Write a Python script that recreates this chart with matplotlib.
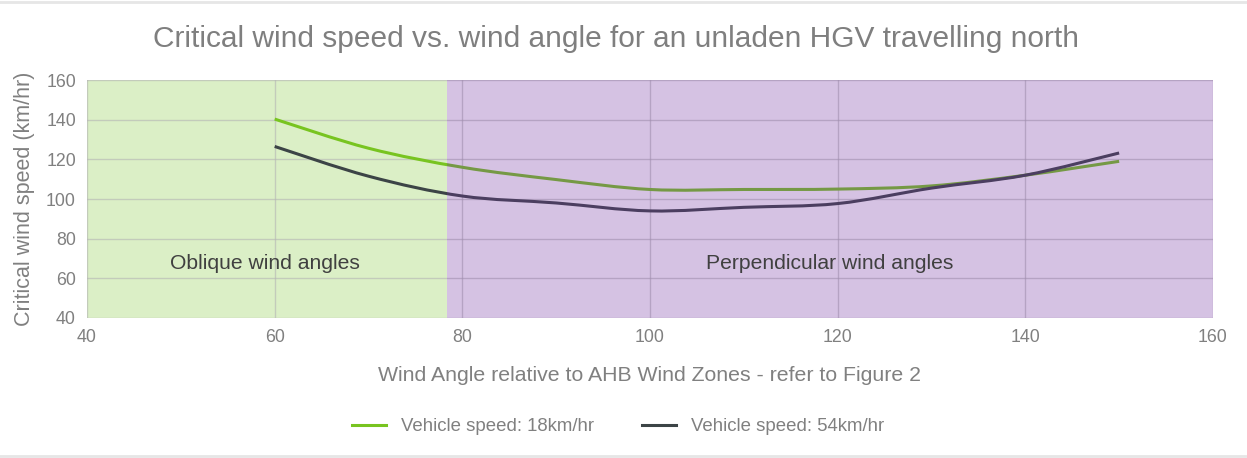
import matplotlib.pyplot as plt
from matplotlib.path import Path
from matplotlib.patches import PathPatch
from matplotlib.lines import Line2D

plt.rcParams['font.family'] = ['Liberation Sans', 'DejaVu Sans']

# data
wind_angle = [60, 70, 80, 90, 100, 110, 120, 130, 140, 150]
speed_18 = [140.3, 125.6, 116.0, 109.8, 104.8, 104.8, 105.0, 106.6, 112.0, 119.0]
speed_54 = [126.5, 111.5, 101.5, 98.0, 94.0, 95.8, 97.7, 105.5, 112.0, 123.2]
series_labels = ["Vehicle speed: 18km/hr", "Vehicle speed: 54km/hr"]
series_colors = ["#78c420", "#3c4446"]

oblique_range = (40, 78.4)
perpendicular_range = (78.4, 160)


def smooth_path(xs, ys):
    # Excel-style smoothed line: cubic Bezier through each point (Catmull-Rom tangents)
    pts = list(zip(xs, ys))
    verts = [pts[0]]
    codes = [Path.MOVETO]
    n = len(pts)
    for i in range(n - 1):
        p0 = pts[i - 1] if i > 0 else pts[i]
        p1 = pts[i]
        p2 = pts[i + 1]
        p3 = pts[i + 2] if i + 2 < n else pts[i + 1]
        c1 = (p1[0] + (p2[0] - p0[0]) / 6, p1[1] + (p2[1] - p0[1]) / 6)
        c2 = (p2[0] - (p3[0] - p1[0]) / 6, p2[1] - (p3[1] - p1[1]) / 6)
        verts += [c1, c2, p2]
        codes += [Path.CURVE4] * 3
    return Path(verts, codes)


fig = plt.figure(figsize=(12.47, 4.58), dpi=100)
ax = fig.add_axes([0.0698, 0.3057, 0.9029, 0.5196])

ax.set_xlim(40, 160)
ax.set_ylim(40, 160)
ax.set_xticks(range(40, 161, 20))
ax.set_yticks(range(40, 161, 20))
ax.grid(True, color="#b4b4b4", alpha=0.6, linewidth=1.0)
ax.set_axisbelow(True)
for s in ax.spines.values():
    s.set_visible(False)
ax.tick_params(length=0, labelsize=12.8, labelcolor="#808080", pad=8)

# green zone under the grid and lines
ax.axvspan(*oblique_range, color="#92d050", alpha=0.32, lw=0, zorder=0.3)

for ys, c in zip([speed_18, speed_54], series_colors):
    ax.add_patch(PathPatch(smooth_path(wind_angle, ys), facecolor="none",
                           edgecolor=c, linewidth=2.2, zorder=2,
                           capstyle="butt"))

# purple zone laid over the lines, semi-transparent
ax.axvspan(*perpendicular_range, color="#7030a0", alpha=0.29, lw=0, zorder=3)

ax.text(59, 67.5, "Oblique wind angles", ha="center", va="center",
        fontsize=15.2, color="#404040", zorder=4)
ax.text(119.2, 67.5, "Perpendicular wind angles", ha="center", va="center",
        fontsize=15.2, color="#404040", zorder=4)

ax.set_xlabel("Wind Angle relative to AHB Wind Zones - refer to Figure 2",
              fontsize=15.3, color="#808080", labelpad=14)
ax.set_ylabel("Critical wind speed (km/hr)", fontsize=15.5, color="#808080",
              labelpad=8)

fig.text(0.494, 0.915, "Critical wind speed vs. wind angle for an unladen HGV travelling north",
         ha="center", va="center", fontsize=21.5, color="#7f7f7f")

handles = [Line2D([], [], color=c, lw=2.2) for c in series_colors]
fig.legend(handles, series_labels, loc="center", bbox_to_anchor=(0.4956, 0.068),
           ncol=2, frameon=False, fontsize=13.4, labelcolor="#808080",
           handlelength=1.8, handletextpad=0.8, columnspacing=2.6)

# thin light border lines top and bottom of the chart frame
fig.add_artist(Line2D([0, 1], [0.995, 0.995], color="#e6e6e6", lw=2,
                      transform=fig.transFigure))
fig.add_artist(Line2D([0, 1], [0.005, 0.005], color="#e6e6e6", lw=2,
                      transform=fig.transFigure))

fig.savefig("out.png", dpi=100)
